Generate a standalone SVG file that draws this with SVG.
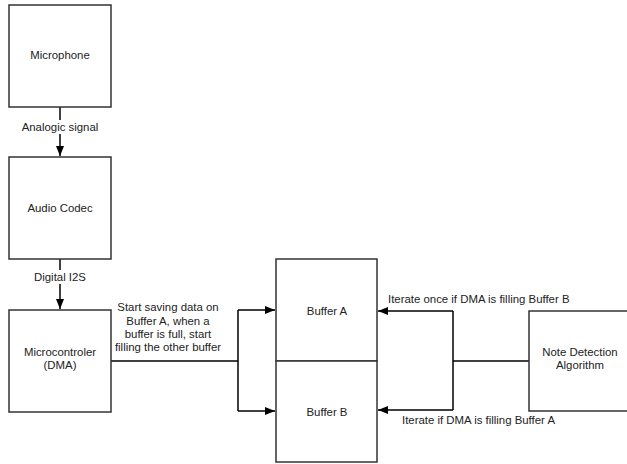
<svg xmlns="http://www.w3.org/2000/svg" width="627" height="464" viewBox="0 0 627 464">
<defs>
<marker id="ah" viewBox="0 0 10 10" refX="10" refY="5" markerWidth="10" markerHeight="10" markerUnits="userSpaceOnUse" orient="auto">
<path d="M0,1 L10,5 L0,9 Z" fill="#000"/>
</marker>
</defs>
<style>
.box{fill:#fff;stroke:#333;stroke-width:1.5}
.ln{fill:none;stroke:#000;stroke-width:1.5}
text{font-family:"Liberation Sans",Arial,sans-serif;font-size:11.4px;fill:#222}
.c{text-anchor:middle}
</style>
<rect width="627" height="464" fill="#fff"/>
<g id="connectors">
<line class="ln" x1="60" y1="107" x2="60" y2="156" marker-end="url(#ah)"/>
<line class="ln" x1="60" y1="259" x2="60" y2="309" marker-end="url(#ah)"/>
<polyline class="ln" points="111,361 238,361"/>
<polyline class="ln" points="238,310 238,411"/>
<line class="ln" x1="238" y1="310" x2="275" y2="310" marker-end="url(#ah)"/>
<line class="ln" x1="238" y1="411" x2="275" y2="411" marker-end="url(#ah)"/>
<polyline class="ln" points="529,361 453,361"/>
<polyline class="ln" points="453,311 453,410"/>
<line class="ln" x1="453" y1="311" x2="378" y2="311" marker-end="url(#ah)"/>
<line class="ln" x1="453" y1="410" x2="378" y2="410" marker-end="url(#ah)"/>
<rect x="20" y="120" width="80" height="14" fill="#fff"/>
<text class="c" x="60" y="131">Analogic signal</text>
<rect x="28" y="270" width="64" height="14" fill="#fff"/>
<text class="c" x="60" y="281">Digital I2S</text>
<text class="c" x="168" y="311">Start saving data on</text>
<text class="c" x="168" y="325">Buffer A, when a</text>
<text class="c" x="168" y="338">buffer is full, start</text>
<text class="c" x="168" y="351">filling the other buffer</text>
<text x="388" y="303">Iterate once if DMA is filling Buffer B</text>
<text x="402" y="424">Iterate if DMA is filling Buffer A</text>
</g>
<g id="microphone">
<rect class="box" x="9" y="5" width="102" height="102"/>
<text class="c" x="60" y="59">Microphone</text>
</g>
<g id="audio-codec">
<rect class="box" x="9" y="157" width="102" height="102"/>
<text class="c" x="60" y="212">Audio Codec</text>
</g>
<g id="microcontroller">
<rect class="box" x="9" y="310" width="102" height="102"/>
<text class="c" x="60" y="356">Microcontroler</text>
<text class="c" x="60" y="369">(DMA)</text>
</g>
<g id="buffer-a">
<rect class="box" x="276" y="259" width="101" height="102"/>
<text class="c" x="327" y="315">Buffer A</text>
</g>
<g id="buffer-b">
<rect class="box" x="276" y="361" width="101" height="101"/>
<text class="c" x="327" y="416">Buffer B</text>
</g>
<g id="note-detection">
<rect class="box" x="529" y="311" width="102" height="100"/>
<text class="c" x="580" y="356">Note Detection</text>
<text class="c" x="580" y="369">Algorithm</text>
</g>
</svg>
